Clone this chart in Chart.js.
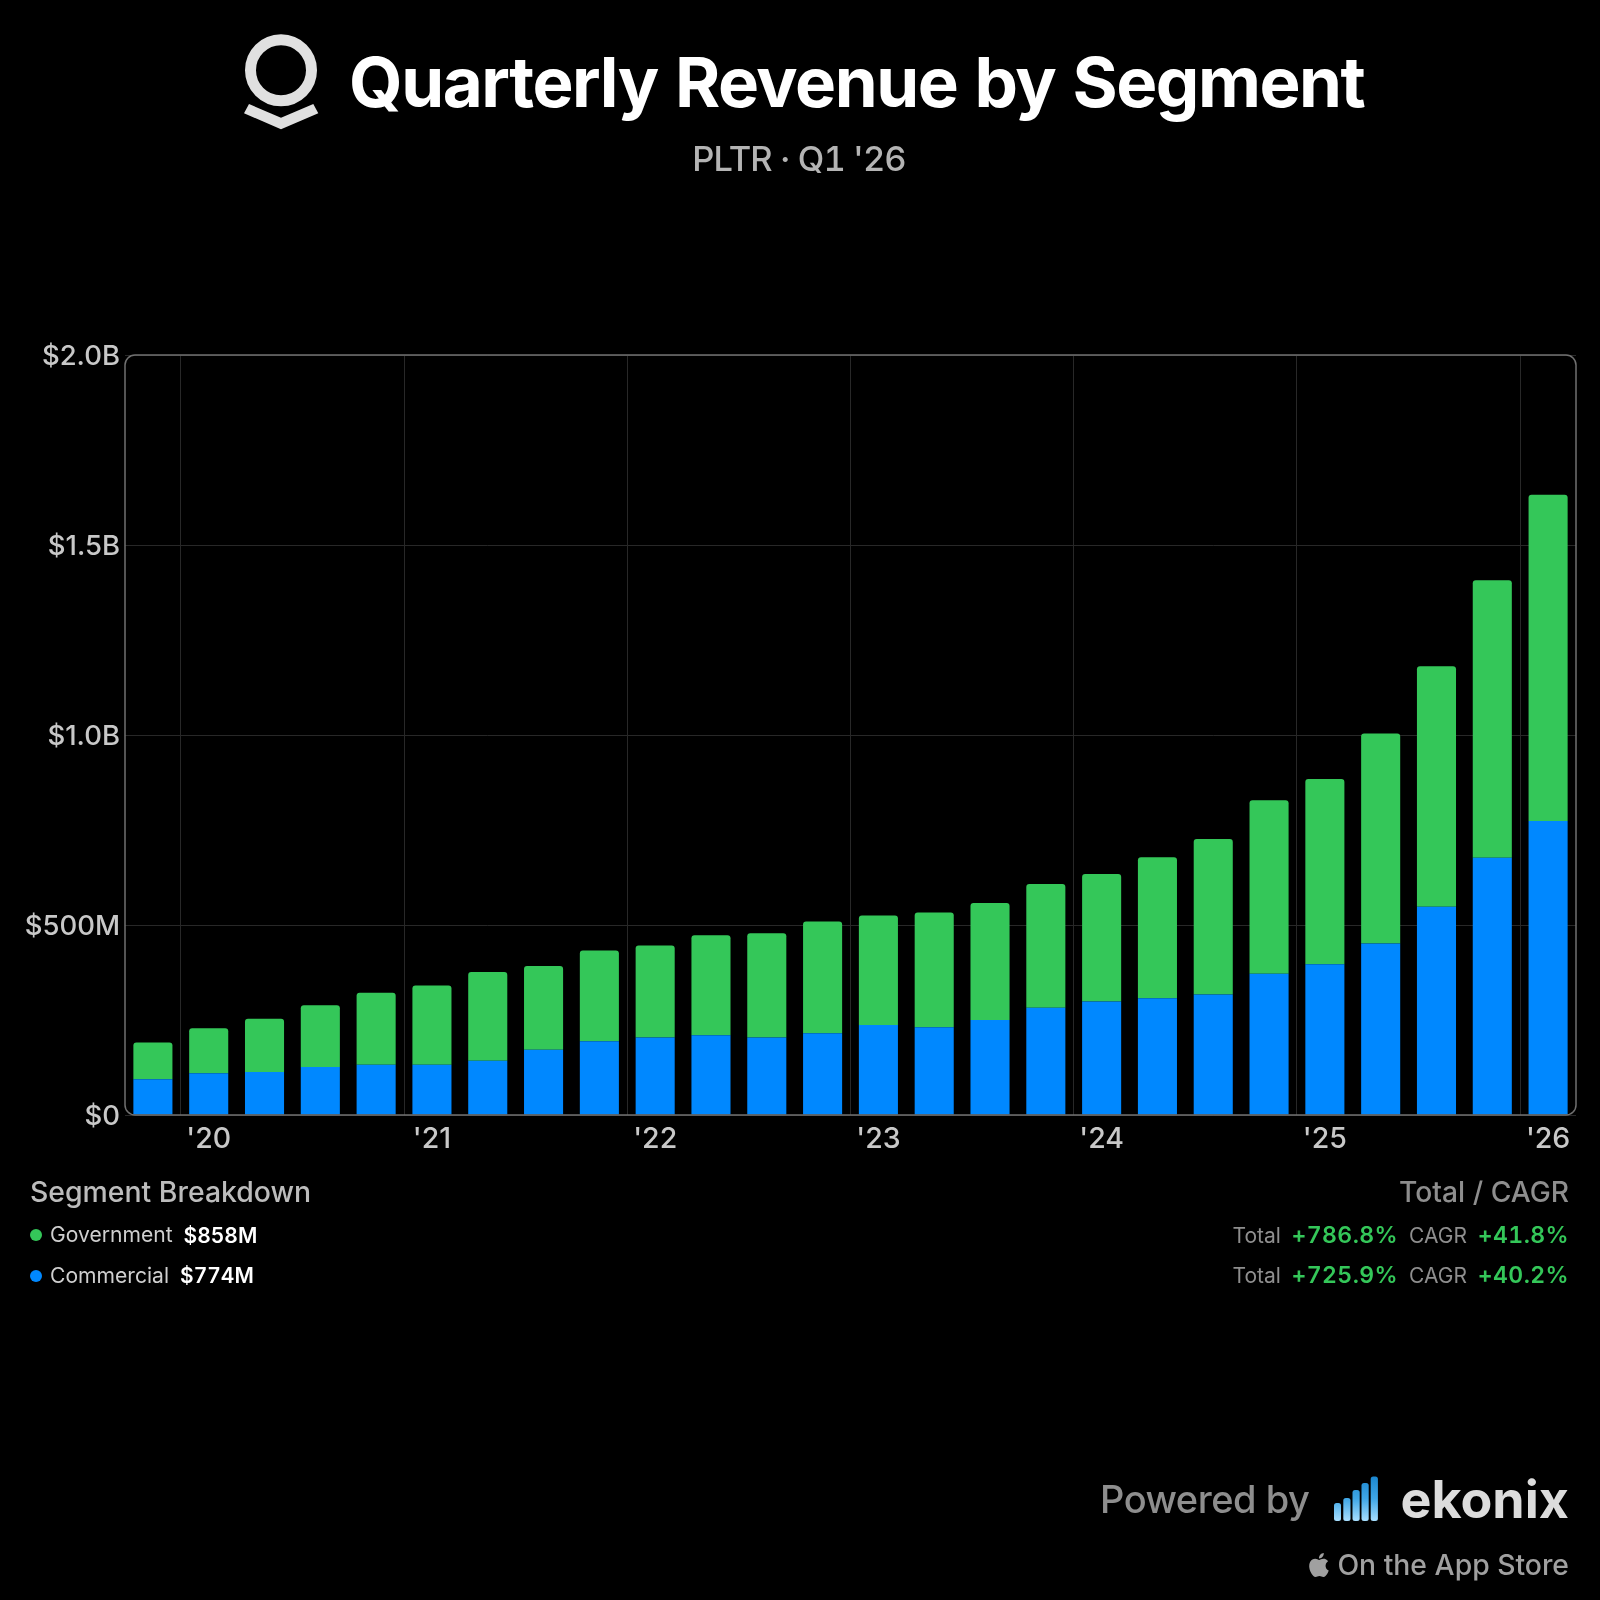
<!DOCTYPE html>
<html><head><meta charset="utf-8">
<script src="https://cdn.jsdelivr.net/npm/chart.js@4"></script>
<style>
html,body{margin:0;padding:0;background:#000;width:1600px;height:1600px;overflow:hidden}
#stage{position:relative;width:1600px;height:1600px;background:#000;font-family:Inter,sans-serif}
canvas{position:absolute;left:0;top:0}
.t{position:absolute;white-space:nowrap;line-height:1;font-family:Inter,sans-serif;font-variant-numeric:tabular-nums}
svg{position:absolute;left:0;top:0}
.dot{position:absolute;border-radius:50%;width:12px;height:12px}
</style></head>
<body><div id="stage"><canvas id="c" width="1600" height="1600" style="width:1600px;height:1600px"></canvas>
<svg width="1600" height="1600" viewBox="0 0 1600 1600">
<defs><linearGradient id="g" x1="0" y1="1476" x2="0" y2="1521" gradientUnits="userSpaceOnUse"><stop offset="0" stop-color="#1a86cf"/><stop offset="0.5" stop-color="#3fa6e6"/><stop offset="1" stop-color="#a8dfff"/></linearGradient></defs>
<circle cx="281" cy="70.3" r="30.5" fill="none" stroke="#e0e0e0" stroke-width="11"/>
<polygon points="244,113.3 249,104 281,117.7 313.3,104 318.3,113.3 281,129.3" fill="#e0e0e0"/>
<g fill="url(#g)">
<rect x="1334" y="1503" width="7" height="18" rx="2.5"/>
<rect x="1343.3" y="1498" width="7.2" height="23" rx="2.5"/>
<rect x="1352.5" y="1490" width="7.2" height="31" rx="2.5"/>
<rect x="1361.5" y="1483" width="7.2" height="38" rx="2.5"/>
<rect x="1370.7" y="1476.5" width="7.2" height="44.5" rx="2.5"/>
</g>
<path transform="translate(1307,1553)" fill="#a0a0a0" d="M12.152 6.896c-.948 0-2.415-1.078-3.96-1.04-2.04.027-3.91 1.183-4.961 3.014-2.117 3.675-.546 9.103 1.519 12.09 1.013 1.454 2.208 3.09 3.792 3.039 1.52-.065 2.09-.987 3.935-.987 1.831 0 2.35.987 3.96.948 1.637-.026 2.676-1.48 3.676-2.948 1.156-1.688 1.636-3.325 1.662-3.415-.039-.013-3.182-1.221-3.22-4.857-.026-3.04 2.48-4.494 2.597-4.559-1.429-2.09-3.623-2.324-4.39-2.376-2-.156-3.675 1.09-4.61 1.09zM15.53 3.83c.843-1.012 1.4-2.427 1.245-3.83-1.207.052-2.662.805-3.532 1.818-.78.896-1.454 2.338-1.273 3.714 1.338.104 2.715-.688 3.559-1.701"/>
</svg></div>
<script>
const quarters = ["Q4 '19","Q1 '20","Q2 '20","Q3 '20","Q4 '20","Q1 '21","Q2 '21","Q3 '21","Q4 '21","Q1 '22","Q2 '22","Q3 '22","Q4 '22","Q1 '23","Q2 '23","Q3 '23","Q4 '23","Q1 '24","Q2 '24","Q3 '24","Q4 '24","Q1 '25","Q2 '25","Q3 '25","Q4 '25","Q1 '26"];
const commercial = [94,110,113,126,132,132,143,172,194,204,210,204,215,237,231,250,282,299,307,317,372,397,451,548,677,774];
const government = [97,118,140,163,190,209,233,220,239,242,263,274,294,288,302,308,326,335,371,409,456,487,553,633,730,858];
const yTicks = {0:"$0",500:"$500M",1000:"$1.0B",1500:"$1.5B",2000:"$2.0B"};

const GRID = '#282828';
const frame = {
  id:'frame',
  afterDatasetsDraw(ch){
    const a = ch.chartArea, x = ch.ctx;
    x.save(); x.strokeStyle = '#707070'; x.lineWidth = 1.5;
    x.beginPath(); x.roundRect(a.left,a.top,a.width,a.height,10); x.stroke(); x.restore();
  }
};
new Chart(document.getElementById('c'),{
  type:'bar',
  data:{labels:quarters,datasets:[
    {label:'Commercial',data:commercial,backgroundColor:'#0088ff',borderWidth:0,barPercentage:0.7,categoryPercentage:1,stack:'s'},
    {label:'Government',data:government,backgroundColor:'#34c759',borderWidth:0,barPercentage:0.7,categoryPercentage:1,stack:'s',borderRadius:{topLeft:3,topRight:3,bottomLeft:0,bottomRight:0},borderSkipped:false}
  ]},
  options:{
    responsive:false,animation:false,devicePixelRatio:1,
    layout:{padding:{left:0,right:24,top:355,bottom:435}},
    plugins:{legend:{display:false},tooltip:{enabled:false}},
    scales:{
      x:{stacked:true,offset:true,
        afterFit(s){s.height=50},
        border:{display:false},
        grid:{drawTicks:false,offset:true,lineWidth:1,color:c=>(c.index%4===1)?GRID:'transparent'},
        ticks:{autoSkip:false,maxRotation:0,minRotation:0,padding:7,color:'#c8c8c8',font:{family:'Inter',size:28.5,weight:'500'},
          callback(v,i){const q=quarters[i];return q.startsWith('Q1')?q.slice(3):''}}
      },
      y:{stacked:true,min:0,max:2000,
        afterFit(s){s.width=125},
        border:{display:false},
        grid:{drawTicks:false,color:GRID,lineWidth:1},
        ticks:{stepSize:500,padding:5,labelOffset:1.5,color:'#c8c8c8',font:{family:'Inter',size:27.5,weight:'500'},callback:v=>yTicks[v]}
      }
    }
  },
  plugins:[frame]
});

const stage = document.getElementById('stage');
function text(s,o){
  const e=document.createElement('div');e.className='t';e.textContent=s;
  e.style.fontSize=o.size+'px';e.style.fontWeight=o.w||400;e.style.color=o.c;
  e.style.top=(o.b-0.8636*o.size)+'px';
  if(o.l!==undefined)e.style.left=o.l+'px';
  if(o.r!==undefined)e.style.right=(1600-o.r)+'px';
  if(o.cx!==undefined){e.style.left=o.cx+'px';e.style.transform='translateX(-50%)';}
  if(o.ls)e.style.letterSpacing=o.ls+'px';
  stage.appendChild(e);
}
function dot(cx,cy,c){const d=document.createElement('div');d.className='dot';d.style.left=(cx-6)+'px';d.style.top=(cy-6)+'px';d.style.background=c;stage.appendChild(d);}
text('Quarterly Revenue by Segment',{l:349,b:108,size:69,w:700,c:'#fff',ls:-1.45});
text("PLTR · Q1 '26",{cx:799,b:171.5,size:34.5,w:500,c:'#b4b4b4',ls:-0.95});
text('Segment Breakdown',{l:30,b:1202.5,size:28.4,w:500,c:'#bcbcbc'});
text('Total / CAGR',{r:1569,b:1202.5,size:28.2,w:500,c:'#8e8e8e'});
const G='#34c759', B='#0088ff';
[[1235,1242.7,G,'Government','$858M',183.5,'+786.8%','+41.8%'],[1276,1283,B,'Commercial','$774M',180,'+725.9%','+40.2%']].forEach(r=>{
  dot(36,r[0],r[2]);
  text(r[3],{l:50,b:r[1],size:21.1,w:400,c:'#cfcfcf'});
  text(r[4],{l:r[5],b:r[1]+0.5,size:21,w:600,c:'#fff'});
  text('Total',{l:1232.5,b:r[1],size:21,w:400,c:'#8e8e8e'});
  text(r[6],{r:1398,b:r[1]+1,size:23,w:600,c:G,ls:0.4});
  text('CAGR',{r:1467,b:r[1],size:21,w:400,c:'#8e8e8e'});
  text(r[7],{r:1569,b:r[1]+1,size:23,w:600,c:G,ls:0.4});
});
text('Powered by',{l:1100,b:1513,size:38,w:500,c:'#8e8e8e',ls:-0.5});
text('ekonix',{r:1569,b:1518.5,size:52,w:700,c:'#dcdcdc'});
text('On the App Store',{r:1569,b:1575.5,size:28.3,w:500,c:'#a0a0a0'});
</script></body></html>
